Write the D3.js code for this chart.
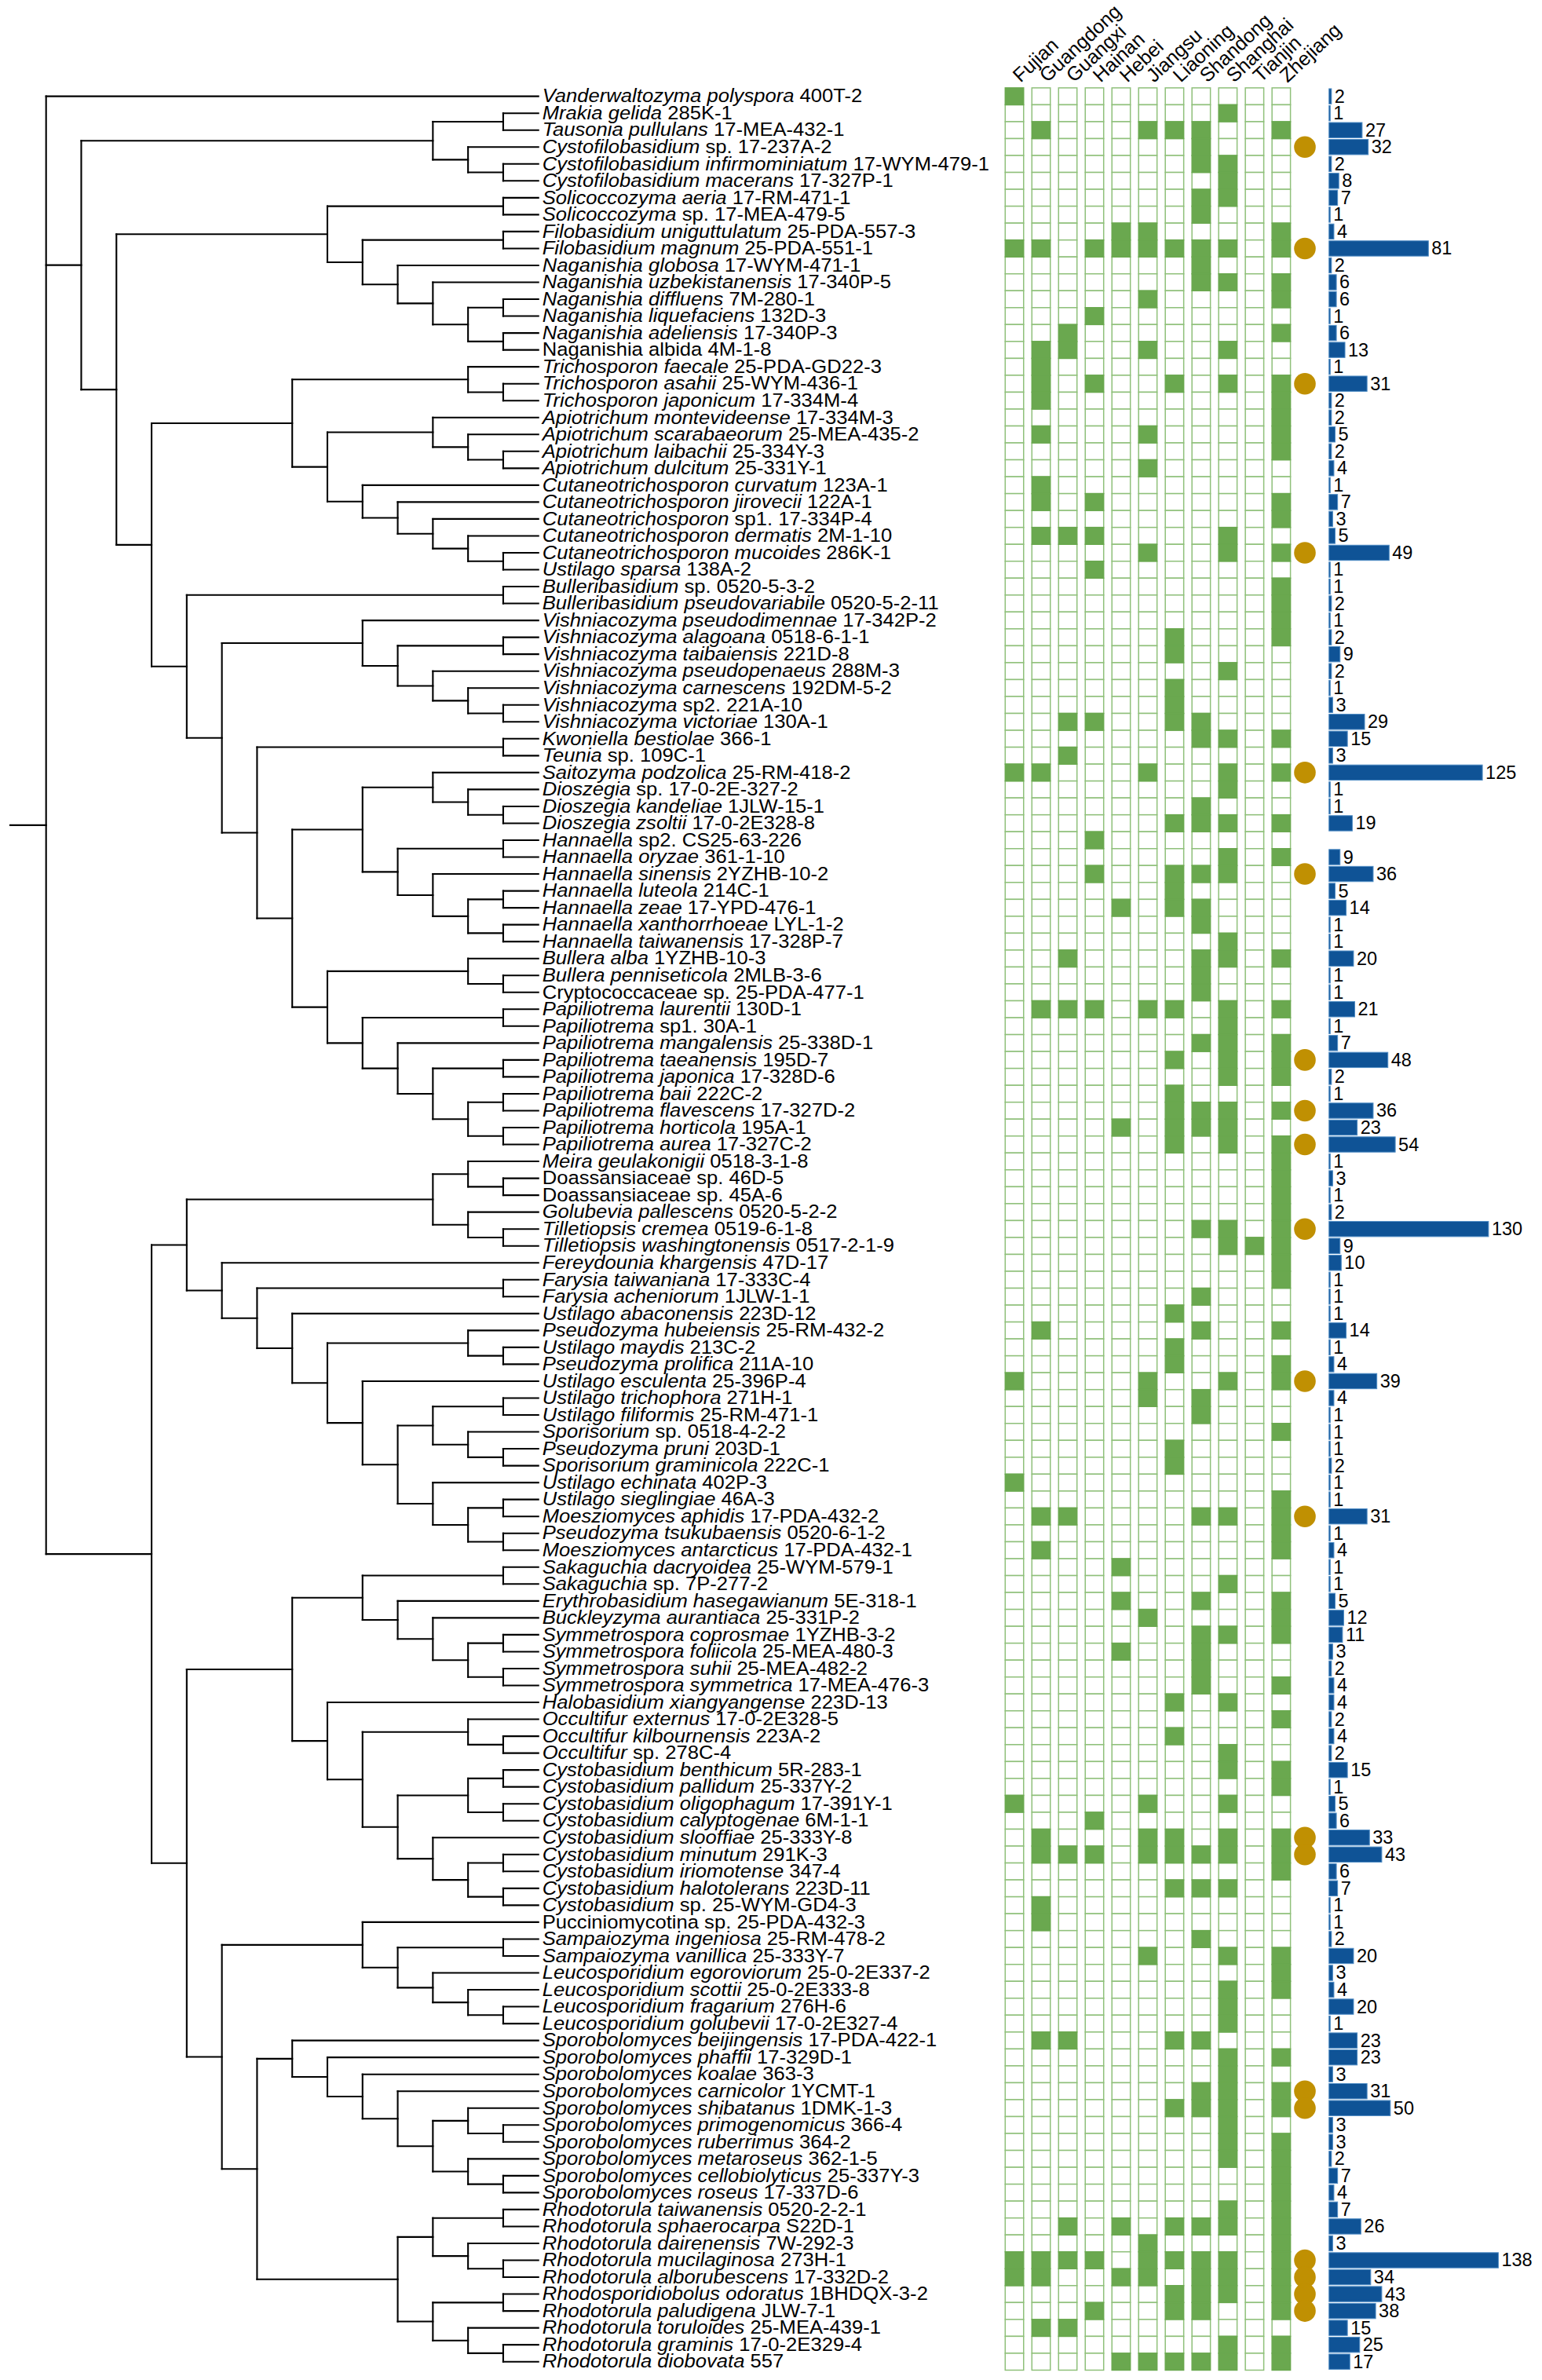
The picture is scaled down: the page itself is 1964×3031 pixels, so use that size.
<!DOCTYPE html>
<html lang="en">
    <head>
        <meta charset="utf-8">
        <title>Yeast isolates tree</title>
        <script src="https://cdnjs.cloudflare.com/ajax/libs/d3/7.8.5/d3.min.js"></script>
        <style type="text/css">
        html, body { margin: 0; padding: 0; background: #fff; }
        svg { display: block; }
        text { font-family: "Liberation Sans", Arial, sans-serif; fill: #000; }
        .branch { fill: none; stroke: #000; stroke-width: 2.1; stroke-linecap: square; }
        .label { font-size: 23.5px; }
        .count { font-size: 23.5px; }
        .province { font-size: 25px; }
        .cell { fill: #fff; stroke: #8fc07a; stroke-width: 1.5; }
        .cell.on { fill: #6aa84f; stroke: #6aa84f; }
        .dot { fill: #c09002; }
        .bar { fill: #0f5396; stroke: #4f8cc4; stroke-width: 1; }
        </style>
    </head>
    <body>
        <script>
                // italic part of each tip label ("" = set in roman)
                var taxa = ["Vanderwaltozyma polyspora","Mrakia gelida","Tausonia pullulans","Cystofilobasidium","Cystofilobasidium infirmominiatum","Cystofilobasidium macerans","Solicoccozyma aeria","Solicoccozyma","Filobasidium uniguttulatum","Filobasidium magnum","Naganishia globosa","Naganishia uzbekistanensis","Naganishia diffluens","Naganishia liquefaciens","Naganishia adeliensis","","Trichosporon faecale","Trichosporon asahii","Trichosporon japonicum","Apiotrichum montevideense","Apiotrichum scarabaeorum","Apiotrichum laibachii","Apiotrichum dulcitum","Cutaneotrichosporon curvatum","Cutaneotrichosporon jirovecii","Cutaneotrichosporon","Cutaneotrichosporon dermatis","Cutaneotrichosporon mucoides","Ustilago sparsa","Bulleribasidium","Bulleribasidium pseudovariabile","Vishniacozyma pseudodimennae","Vishniacozyma alagoana","Vishniacozyma taibaiensis","Vishniacozyma pseudopenaeus","Vishniacozyma carnescens","Vishniacozyma","Vishniacozyma victoriae","Kwoniella bestiolae","Teunia","Saitozyma podzolica","Dioszegia","Dioszegia kandeliae","Dioszegia zsoltii","Hannaella","Hannaella oryzae","Hannaella sinensis","Hannaella luteola","Hannaella zeae","Hannaella xanthorrhoeae","Hannaella taiwanensis","Bullera alba","Bullera penniseticola","","Papiliotrema laurentii","Papiliotrema","Papiliotrema mangalensis","Papiliotrema taeanensis","Papiliotrema japonica","Papiliotrema baii","Papiliotrema flavescens","Papiliotrema horticola","Papiliotrema aurea","Meira geulakonigii","","","Golubevia pallescens","Tilletiopsis cremea","Tilletiopsis washingtonensis","Fereydounia khargensis","Farysia taiwaniana","Farysia acheniorum","Ustilago abaconensis","Pseudozyma hubeiensis","Ustilago maydis","Pseudozyma prolifica","Ustilago esculenta","Ustilago trichophora","Ustilago filiformis","Sporisorium","Pseudozyma pruni","Sporisorium graminicola","Ustilago echinata","Ustilago sieglingiae","Moesziomyces aphidis","Pseudozyma tsukubaensis","Moesziomyces antarcticus","Sakaguchia dacryoidea","Sakaguchia","Erythrobasidium hasegawianum","Buckleyzyma aurantiaca","Symmetrospora coprosmae","Symmetrospora foliicola","Symmetrospora suhii","Symmetrospora symmetrica","Halobasidium xiangyangense","Occultifur externus","Occultifur kilbournensis","Occultifur","Cystobasidium benthicum","Cystobasidium pallidum","Cystobasidium oligophagum","Cystobasidium calyptogenae","Cystobasidium slooffiae","Cystobasidium minutum","Cystobasidium iriomotense","Cystobasidium halotolerans","Cystobasidium","","Sampaiozyma ingeniosa","Sampaiozyma vanillica","Leucosporidium egoroviorum","Leucosporidium scottii","Leucosporidium fragarium","Leucosporidium golubevii","Sporobolomyces beijingensis","Sporobolomyces phaffii","Sporobolomyces koalae","Sporobolomyces carnicolor","Sporobolomyces shibatanus","Sporobolomyces primogenomicus","Sporobolomyces ruberrimus","Sporobolomyces metaroseus","Sporobolomyces cellobiolyticus","Sporobolomyces roseus","Rhodotorula taiwanensis","Rhodotorula sphaerocarpa","Rhodotorula dairenensis","Rhodotorula mucilaginosa","Rhodotorula alborubescens","Rhodosporidiobolus odoratus","Rhodotorula paludigena","Rhodotorula toruloides","Rhodotorula graminis","Rhodotorula diobovata"];

                // roman part of each tip label
                var strains = ["400T-2","285K-1","17-MEA-432-1","sp. 17-237A-2","17-WYM-479-1","17-327P-1","17-RM-471-1","sp. 17-MEA-479-5","25-PDA-557-3","25-PDA-551-1","17-WYM-471-1","17-340P-5","7M-280-1","132D-3","17-340P-3","Naganishia albida 4M-1-8","25-PDA-GD22-3","25-WYM-436-1","17-334M-4","17-334M-3","25-MEA-435-2","25-334Y-3","25-331Y-1","123A-1","122A-1","sp1. 17-334P-4","2M-1-10","286K-1","138A-2","sp. 0520-5-3-2","0520-5-2-11","17-342P-2","0518-6-1-1","221D-8","288M-3","192DM-5-2","sp2. 221A-10","130A-1","366-1","sp. 109C-1","25-RM-418-2","sp. 17-0-2E-327-2","1JLW-15-1","17-0-2E328-8","sp2. CS25-63-226","361-1-10","2YZHB-10-2","214C-1","17-YPD-476-1","LYL-1-2","17-328P-7","1YZHB-10-3","2MLB-3-6","Cryptococcaceae sp. 25-PDA-477-1","130D-1","sp1. 30A-1","25-338D-1","195D-7","17-328D-6","222C-2","17-327D-2","195A-1","17-327C-2","0518-3-1-8","Doassansiaceae sp. 46D-5","Doassansiaceae sp. 45A-6","0520-5-2-2","0519-6-1-8","0517-2-1-9","47D-17","17-333C-4","1JLW-1-1","223D-12","25-RM-432-2","213C-2","211A-10","25-396P-4","271H-1","25-RM-471-1","sp. 0518-4-2-2","203D-1","222C-1","402P-3","46A-3","17-PDA-432-2","0520-6-1-2","17-PDA-432-1","25-WYM-579-1","sp. 7P-277-2","5E-318-1","25-331P-2","1YZHB-3-2","25-MEA-480-3","25-MEA-482-2","17-MEA-476-3","223D-13","17-0-2E328-5","223A-2","sp. 278C-4","5R-283-1","25-337Y-2","17-391Y-1","6M-1-1","25-333Y-8","291K-3","347-4","223D-11","sp. 25-WYM-GD4-3","Pucciniomycotina sp. 25-PDA-432-3","25-RM-478-2","25-333Y-7","25-0-2E337-2","25-0-2E333-8","276H-6","17-0-2E327-4","17-PDA-422-1","17-329D-1","363-3","1YCMT-1","1DMK-1-3","366-4","364-2","362-1-5","25-337Y-3","17-337D-6","0520-2-2-1","S22D-1","7W-292-3","273H-1","17-332D-2","1BHDQX-3-2","JLW-7-1","25-MEA-439-1","17-0-2E329-4","557"];

                // isolate count per tip, null = no bar
                var counts = [2,1,27,32,2,8,7,1,4,81,2,6,6,1,6,13,1,31,2,2,5,2,4,1,7,3,5,49,1,1,2,1,2,9,2,1,3,29,15,3,125,1,1,19,null,9,36,5,14,1,1,20,1,1,21,1,7,48,2,1,36,23,54,1,3,1,2,130,9,10,1,1,1,14,1,4,39,4,1,1,1,2,1,1,31,1,4,1,1,5,12,11,3,2,4,4,2,4,2,15,1,5,6,33,43,6,7,1,1,2,20,3,4,20,1,23,23,3,31,50,3,3,2,7,4,7,26,3,138,34,43,38,15,25,17];

                var provinces = ["Fujian","Guangdong","Guangxi","Hainan","Hebei","Jiangsu","Liaoning","Shandong","Shanghai","Tianjin","Zhejiang"];

                // which provinces (index into provinces) each tip was found in
                var presence = [[0],[8],[1,5,6,7,10],[7],[7,8],[8],[7,8],[7],[4,5,10],[0,1,3,4,5,6,7,8,10],
                    [7],[7,8,10],[5,10],[3],[2,10],[1,2,5,8],[1],[1,3,6,8,10],[1,10],[10],
                    [1,5,10],[10],[5],[1],[1,3,10],[10],[1,2,3,8],[5,8,10],[3],[10],
                    [10],[10],[6,10],[6],[8],[6],[6],[2,3,6,7],[7,8,10],[2],
                    [0,1,5,8,10],[8],[7],[6,7,8,10],[3],[8,10],[3,6,7,8],[6],[4,6,7],[7],
                    [8],[2,7,8,10],[7],[7],[1,2,3,5,6,8,10],[8],[7,8,10],[6,8,10],[8,10],[6],
                    [6,7,8,10],[4,6,7,8],[6,8,10],[10],[10],[10],[10],[7,8,10],[8,9,10],[10],
                    [10],[7],[6],[1,7,10],[6],[6,10],[0,5,8,10],[5,7],[7],[10],
                    [6],[6],[0],[10],[1,2,7,8,10],[10],[1,10],[4],[8],[4,7,10],
                    [5,10],[7,8,10],[4,7],[7],[7,10],[6,8],[10],[6],[8],[8,10],
                    [10],[0,5,8],[3],[1,5,6,8,10],[1,2,3,5,6,7,8,10],[10],[6,7,8],[1],[1],[7],
                    [5,8,10],[10],[8,10],[8],[8],[1,2,6,7],[8,10],[8],[7,8,10],[6,7,8,10],
                    [8],[8,10],[8,10],[10],[10],[8,10],[2,4,6,7,8,10],[5,10],[0,1,2,3,5,6,7,8,10],[0,1,4,5,7,8,10],
                    [6,7,8,10],[3,6,7,10],[1,2],[8,10],[4,5,6,7,8,10]];

                // tips with the ochre dot (1-based tip number)
                var dotted = [4,10,18,28,41,47,58,61,63,68,77,85,104,105,119,120,129,130,131,132];

                // tree topology by clade, leaves are 1-based tip numbers
                var cystofilo = [[2,3],[4,[5,6]]];
                var naganishia = [[7,8],[[9,10],[11,[12,[[13,14],[15,16]]]]]];
                var trichosporon = [[17,[18,19]],[[20,[21,[22,23]]],[24,[25,[26,[27,[28,29]]]]]]];
                var vishniaco = [32,[[33,34],[35,[36,[37,38]]]]];
                var hannaella = [[41,[42,[43,44]]],[[45,46],[47,[[48,49],[50,51]]]]];
                var papilio = [[52,[53,54]],[[55,56],[57,[[58,59],[[60,61],[62,63]]]]]];
                var tremello = [[30,31],[vishniaco,[[39,40],[hannaella,papilio]]]];
                var tillet = [[64,[65,66]],[67,[68,69]]];
                var ustilago = [[[78,79],[80,[81,82]]],[83,[[84,85],[86,87]]]];
                var farysia = [70,[[71,72],[73,[[74,[75,76]],[77,ustilago]]]]];
                var symmetro = [[88,89],[90,[91,[[92,93],[94,95]]]]];
                var cystobasid = [96,[[97,[98,99]],[[[100,101],[102,103]],[104,[[105,106],[107,108]]]]]];
                var leuco = [109,[[110,111],[112,[113,[114,115]]]]];
                var sporobolo = [116,[117,[118,[119,[[120,[121,122]],[123,[124,125]]]]]]];
                var rhodo = [[[126,127],[128,[129,130]]],[[131,132],[133,[134,135]]]];

                var agarico = [cystofilo,[naganishia,[trichosporon,tremello]]];
                var ustilagino = [[tillet,farysia],[[symmetro,cystobasid],[leuco,[sporobolo,rhodo]]]];
                var tree = [1,agarico,ustilagino];

                var w = 1964;
                var h = 3031;

                var tips = d3.range(1, taxa.length + 1);

                var yScale = d3.scaleBand()
                  .domain(tips)
                  .range([111.9, 111.9 + 21.53 * tips.length]);

                function yMid(n) { return yScale(n) + yScale.bandwidth() / 2; }

                var xTree = d3.scaleLinear()
                  .domain([14, 0])
                  .range([58.7, 685.7]);

                var xProv = d3.scaleBand()
                  .domain(provinces)
                  .range([1280.3, 1643.6])
                  .paddingInner(0.31);

                var xBar = d3.scaleLinear()
                  .domain([0, 138])
                  .range([1692.7, 1908.4]);

                var svg = d3.select("body")
                  .append("svg")
                  .attr("width", w)
                  .attr("height", h);

                // tree
                var root = d3.hierarchy(tree, function (d) { return Array.isArray(d) ? d : null; });
                root.eachAfter(function (n) {
                    if (n.children) {
                        n.yPos = (n.children[0].yPos + n.children[n.children.length - 1].yPos) / 2;
                    } else {
                        n.yPos = yMid(n.data);
                    }
                });

                var branches = svg.append("g");

                function hLine(x0, x1, y) { return "M" + x0 + "," + y + "H" + x1; }

                root.descendants().forEach(function (n) {
                    var x = xTree(n.height);
                    if (n.children) {
                        var first = n.children[0], last = n.children[n.children.length - 1];
                        branches.append("path").attr("class", "branch")
                          .attr("d", "M" + x + "," + first.yPos + "V" + last.yPos);
                        n.children.forEach(function (c) {
                            branches.append("path").attr("class", "branch")
                              .attr("d", hLine(x, xTree(c.height), c.yPos));
                        });
                    }
                });

                // root stub
                branches.append("path").attr("class", "branch")
                  .attr("d", hLine(13, xTree(14), root.yPos));

                // tip labels, the reference text is a little wider than the font
                var labels = svg.append("g").selectAll("text")
                  .data(tips)
                  .enter().append("text")
                  .attr("class", "label")
                  .attr("transform", function (d) {
                      return "translate(690.7," + yMid(d) + ") scale(1.09,1)";
                  })
                  .attr("dy", "0.33em");

                labels.append("tspan")
                  .attr("font-style", "italic")
                  .text(function (d) { return taxa[d - 1] ? taxa[d - 1] + " " : ""; });

                labels.append("tspan")
                  .text(function (d) { return strains[d - 1]; });

                // province grid
                var cells = [];
                tips.forEach(function (t) {
                    provinces.forEach(function (p, i) {
                        cells.push({tip: t, prov: p, on: presence[t - 1].indexOf(i) >= 0});
                    });
                });

                cells.sort(function (a, b) { return a.on - b.on; });

                svg.append("g").selectAll("rect")
                  .data(cells)
                  .enter().append("rect")
                  .attr("class", function (d) { return d.on ? "cell on" : "cell"; })
                  .attr("x", function (d) { return xProv(d.prov); })
                  .attr("y", function (d) { return yScale(d.tip); })
                  .attr("width", xProv.bandwidth())
                  .attr("height", yScale.bandwidth());

                svg.append("g").selectAll("text")
                  .data(provinces)
                  .enter().append("text")
                  .attr("class", "province")
                  .attr("transform", function (d) {
                      return "translate(" + (xProv(d) + 19.5) + ",106) rotate(-43)";
                  })
                  .text(function (d) { return d; });

                // dots
                svg.append("g").selectAll("circle")
                  .data(dotted)
                  .enter().append("circle")
                  .attr("class", "dot")
                  .attr("cx", 1662)
                  .attr("cy", function (d) { return yMid(d); })
                  .attr("r", 13.8);

                // bars
                var barTips = tips.filter(function (t) { return counts[t - 1] != null; });

                svg.append("g").selectAll("rect")
                  .data(barTips)
                  .enter().append("rect")
                  .attr("class", "bar")
                  .attr("x", xBar(0))
                  .attr("y", function (d) { return yMid(d) - 9.7; })
                  .attr("width", function (d) { return xBar(counts[d - 1]) - xBar(0); })
                  .attr("height", 19.4);

                svg.append("g").selectAll("text")
                  .data(barTips)
                  .enter().append("text")
                  .attr("class", "count")
                  .attr("x", function (d) { return xBar(counts[d - 1]) + 4; })
                  .attr("y", function (d) { return yMid(d); })
                  .attr("dy", "0.34em")
                  .text(function (d) { return counts[d - 1]; });
            </script>
    </body>
</html>
